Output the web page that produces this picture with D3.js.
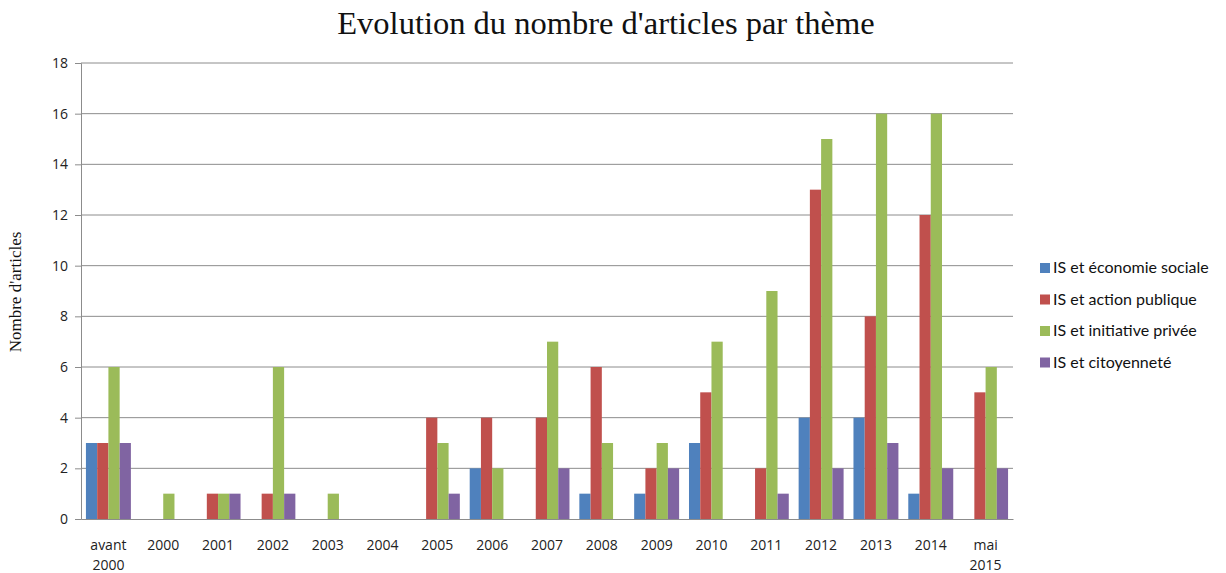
<!DOCTYPE html>
<html>
<head>
<meta charset="utf-8">
<script src="https://cdn.jsdelivr.net/npm/d3@7"></script>
<style>
  body { margin: 0; background: #fff; }
  svg { display: block; }
</style>
</head>
<body>
<svg width="1226" height="573"></svg>
<script>
const categories = ["avant 2000", "2000", "2001", "2002", "2003", "2004", "2005", "2006", "2007", "2008", "2009", "2010", "2011", "2012", "2013", "2014", "mai 2015"];
const seriesNames = ["IS et économie sociale", "IS et action publique", "IS et initiative privée", "IS et citoyenneté"];
const economieSociale = [3, 0, 0, 0, 0, 0, 0, 2, 0, 1, 1, 3, 0, 4, 4, 1, 0];
const actionPublique = [3, 0, 1, 1, 0, 0, 4, 4, 4, 6, 2, 5, 2, 13, 8, 12, 5];
const initiativePrivee = [6, 1, 1, 6, 1, 0, 3, 2, 7, 3, 3, 7, 9, 15, 16, 16, 6];
const citoyennete = [3, 0, 1, 1, 0, 0, 1, 0, 2, 0, 2, 0, 1, 2, 3, 2, 2];
const yTicks = [0, 2, 4, 6, 8, 10, 12, 14, 16, 18];

const seriesValues = [economieSociale, actionPublique, initiativePrivee, citoyennete];
const colors = ["#4F81BD", "#C0504D", "#9BBB59", "#8064A2"];

const svg = d3.select("svg");
const margin = { top: 63, left: 81, right: 213, bottom: 54 };
const width = 1226 - margin.left - margin.right;
const height = 573 - margin.top - margin.bottom;

const g = svg.append("g").attr("transform", `translate(${margin.left},${margin.top})`);

const x = d3.scaleBand().domain(categories).range([0, width]).paddingInner(0.18).paddingOuter(0.09);
const xInner = d3.scaleBand().domain(d3.range(seriesNames.length)).range([0, x.bandwidth()]);
const y = d3.scaleLinear().domain([0, 18]).range([height, 0]);

// gridlines
g.selectAll(".grid").data(yTicks.slice(1)).enter().append("line")
  .attr("x1", 0).attr("x2", width)
  .attr("y1", d => y(d)).attr("y2", d => y(d))
  .attr("stroke", "#8c8c8c").attr("stroke-width", 1);

// bars
const table = categories.map((c, i) => ({ cat: c, vals: seriesValues.map(s => s[i]) }));
const groups = g.selectAll(".grp").data(table).enter().append("g")
  .attr("transform", d => `translate(${x(d.cat)},0)`);
groups.selectAll("rect").data(d => d.vals.map((v, k) => ({ v, k }))).enter().append("rect")
  .attr("x", d => xInner(d.k))
  .attr("width", xInner.bandwidth())
  .attr("y", d => y(d.v))
  .attr("height", d => y(0) - y(d.v))
  .attr("fill", d => colors[d.k]);

// y axis
const yAxis = g.append("g").call(d3.axisLeft(y).tickValues(yTicks).tickSize(6).tickPadding(7));
yAxis.select(".domain").attr("stroke", "#8c8c8c");
yAxis.selectAll(".tick line").attr("stroke", "#8c8c8c");
yAxis.selectAll("text").attr("font-family", "Open Sans, sans-serif").attr("font-size", 14).attr("fill", "#222");

// x axis
const xAxis = g.append("g").attr("transform", `translate(0,${height})`)
  .call(d3.axisBottom(x).tickSize(0).tickPadding(0));
xAxis.select(".domain").attr("stroke", "#8c8c8c");
xAxis.selectAll(".tick text").each(function (d) {
  const t = d3.select(this);
  t.text(null);
  const parts = d.split(" ");
  parts.forEach((p, i) => {
    t.append("tspan").attr("x", 0).attr("y", 31 + i * 20).text(p);
  });
}).attr("font-family", "Open Sans, sans-serif").attr("font-size", 14).attr("fill", "#222").attr("dy", null);

// title
svg.append("text")
  .attr("x", 606).attr("y", 34)
  .attr("text-anchor", "middle")
  .attr("font-family", "Liberation Serif, serif")
  .attr("font-size", 32.5)
  .attr("fill", "#111")
  .text("Evolution du nombre d'articles par thème");

// y label
svg.append("text")
  .attr("transform", `translate(21,292) rotate(-90)`)
  .attr("text-anchor", "middle")
  .attr("font-family", "Liberation Serif, serif")
  .attr("font-size", 17)
  .attr("fill", "#111")
  .text("Nombre d'articles");

// legend
const legend = svg.append("g").attr("transform", "translate(1040,263)");
const items = legend.selectAll("g").data(seriesNames).enter().append("g")
  .attr("transform", (d, i) => `translate(0,${i * 31.5})`);
items.append("rect").attr("width", 10).attr("height", 10).attr("fill", (d, i) => colors[i]);
items.append("text").attr("x", 13).attr("y", 10)
  .attr("font-family", "Lato, sans-serif").attr("font-size", 16).attr("fill", "#111")
  .text(d => d);
</script>
</body>
</html>
